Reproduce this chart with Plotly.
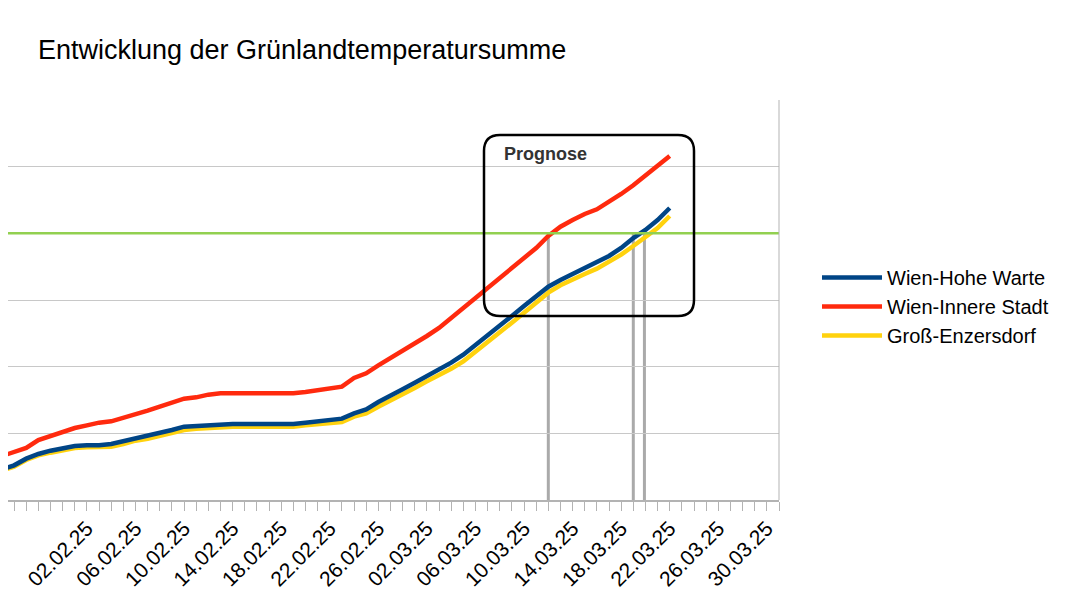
import plotly.graph_objects as go
import pandas as pd

dates = pd.date_range("2025-01-26", "2025-03-22", freq="D")
wien_hohe_warte = [23, 26, 31, 34.5, 37, 39, 40.5, 41, 41, 42, 44, 46.5, 48, 50, 52.5, 55, 55.5, 56, 57,
                   57, 57, 57, 57, 57, 57, 58, 59, 60, 61, 65, 68, 73.5, 78, 83, 88, 93, 97.5, 103, 109,
                   116, 123, 130.5, 138, 145.5, 153, 160, 165, 169.5, 174, 178, 183, 189, 196.5, 202.5, 210, 219]
wien_innere_stadt = [33, 36, 39, 45, 48, 51, 54, 56, 58, 59, 61.5, 64.5, 67, 70, 73, 76, 77, 79, 80,
                     80, 80, 80, 80, 80, 80, 81, 82.5, 84, 85, 91.5, 95, 101, 106.5, 112, 117, 123, 129, 136.5, 144,
                     151.5, 159, 166.5, 174, 181.5, 189, 198, 205, 210, 214.5, 218, 223.5, 229.5, 236, 243, 250, 258]
gross_enzersdorf = [22, 25, 30, 33.5, 35.5, 37.5, 39, 39.5, 39.5, 40, 42, 44.5, 46, 48, 50.5, 52.5, 53.5, 54, 55,
                    55, 55, 55, 55, 55, 55, 56, 57, 58, 58.5, 62.5, 65, 70, 74.5, 79, 84, 89, 93.5, 98.5, 104,
                    111, 118, 125.5, 133, 140.5, 148, 155.5, 161, 165.5, 169.5, 173.5, 178.5, 184, 190.5, 197, 204, 213]
crossing_dates = ["2025-03-12", "2025-03-19", "2025-03-19 22:00"]
tick_dates = pd.date_range("2025-01-29", "2025-03-30", freq="4D")
tick_labels = [d.strftime("%d.%m.%y") for d in tick_dates]
threshold = 200

fig = go.Figure()
for name, vals, col, rank in [("Groß-Enzersdorf", gross_enzersdorf, "#ffd20e", 3),
                              ("Wien-Hohe Warte", wien_hohe_warte, "#004586", 1),
                              ("Wien-Innere Stadt", wien_innere_stadt, "#ff2a0e", 2)]:
    fig.add_trace(go.Scatter(x=dates, y=vals, name=name, mode="lines", legendrank=rank,
                             line=dict(color=col, width=4.5)))

shapes = [dict(type="line", xref="paper", yref="y", x0=0, x1=1, y0=threshold, y1=threshold,
               line=dict(color="#92d050", width=2.5)),
          dict(type="line", xref="paper", yref="paper", x0=1, x1=1, y0=0, y1=1,
               line=dict(color="#b3b3b3", width=1))]
for cd in crossing_dates:
    shapes.append(dict(type="line", xref="x", yref="y", x0=cd, x1=cd, y0=0, y1=threshold,
                       line=dict(color="#aaaaaa", width=3), layer="below"))
W, H = 771, 400
def px(x): return x / W
def py(y): return (492 - y) / H
x0, x1, y0, y1, r = 476, 686, 127, 308, 16
path = (f"M {px(x0+r)},{py(y0)} L {px(x1-r)},{py(y0)} Q {px(x1)},{py(y0)} {px(x1)},{py(y0+r)} "
        f"L {px(x1)},{py(y1-r)} Q {px(x1)},{py(y1)} {px(x1-r)},{py(y1)} "
        f"L {px(x0+r)},{py(y1)} Q {px(x0)},{py(y1)} {px(x0)},{py(y1-r)} "
        f"L {px(x0)},{py(y0+r)} Q {px(x0)},{py(y0)} {px(x0+r)},{py(y0)} Z")
shapes.append(dict(type="path", xref="paper", yref="paper", path=path, line=dict(color="black", width=2.5)))

fig.update_layout(
    width=1076, height=605, margin=dict(l=0, r=305, t=92, b=113, autoexpand=False),
    paper_bgcolor="white", plot_bgcolor="white",
    font=dict(family="Liberation Sans, Arial", size=17, color="black"),
    title=dict(text="Entwicklung der Grünlandtemperatursumme", x=30/1076, xanchor="left",
               y=1-42/605, yanchor="middle", font=dict(size=27)),
    shapes=shapes,
    annotations=[dict(text="<b>Prognose</b>", xref="paper", yref="paper", x=px(494), y=py(146),
                      xanchor="left", yanchor="middle", showarrow=False, font=dict(size=18, color="#333"))],
    legend=dict(x=1 + 38/W, y=py(250), xanchor="left", yanchor="top", font=dict(size=20),
                itemwidth=60, tracegroupgap=0),
    xaxis=dict(type="date", range=["2025-01-26 12:00", "2025-03-31"], tickvals=tick_dates, ticktext=tick_labels,
               tickangle=-45, ticks="outside", ticklen=6, tickcolor="rgba(0,0,0,0)", showgrid=False,
               showline=True, linecolor="#b3b3b3", linewidth=1.5, automargin=False,
               tickfont=dict(size=21),
               minor=dict(dtick=86400000, ticks="outside", ticklen=9, tickcolor="#b3b3b3", showgrid=False)),
    yaxis=dict(range=[0, 300], dtick=50, showticklabels=False, gridcolor="#c8c8c8", zeroline=False,
               automargin=False),
)
fig.write_html("out.html")
